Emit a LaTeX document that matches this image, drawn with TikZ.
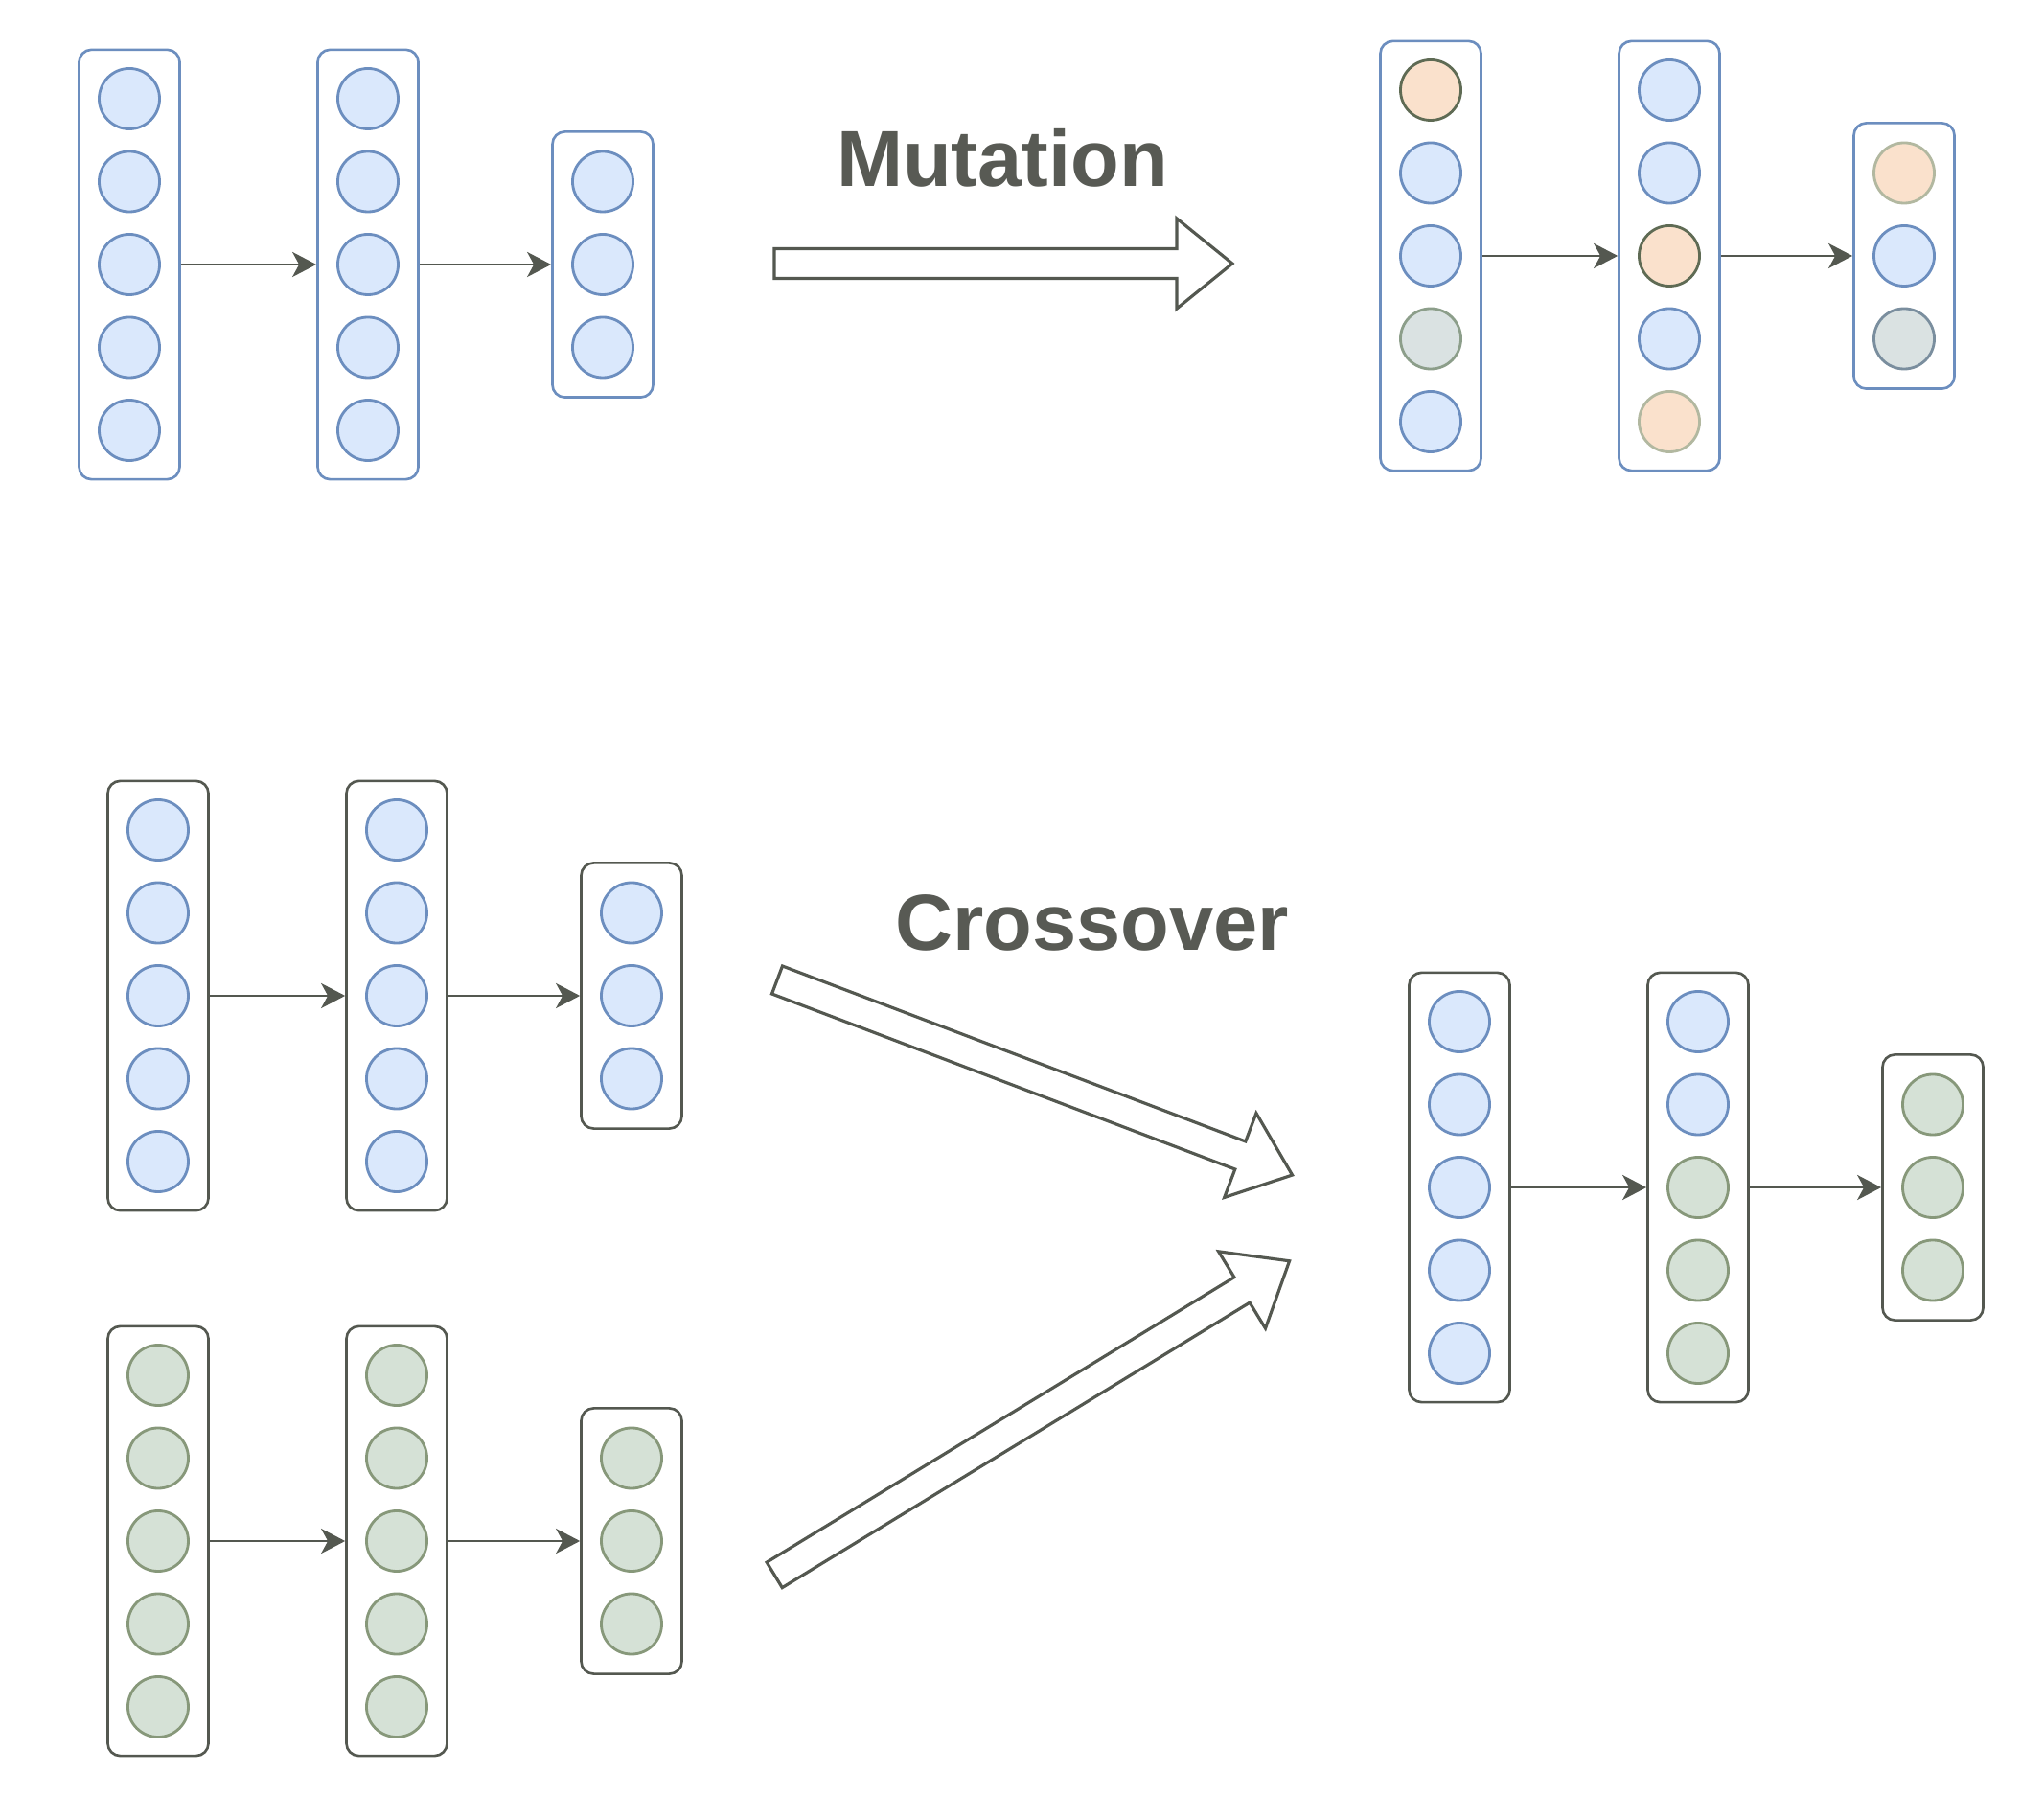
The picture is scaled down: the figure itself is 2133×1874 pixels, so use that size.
\documentclass[tikz,border=0pt]{standalone}
\usepackage{fontspec}
\setmainfont{Liberation Sans}
\usetikzlibrary{arrows.meta}
\definecolor{bfill}{HTML}{DAE8FC}
\definecolor{bline}{HTML}{6C8EBF}
\definecolor{gfill}{RGB}{213,225,214}
\definecolor{gline}{RGB}{135,152,122}
\definecolor{ofill}{RGB}{250,225,204}
\definecolor{odark}{RGB}{95,107,84}
\definecolor{olight}{RGB}{178,184,160}
\definecolor{yfill}{RGB}{218,226,226}
\definecolor{ygline}{RGB}{140,158,138}
\definecolor{ybline}{RGB}{122,142,158}
\definecolor{dline}{RGB}{84,88,80}
\definecolor{txt}{RGB}{88,90,84}
\tikzset{
  neuron/.style={circle, minimum size=0.63cm, inner sep=0pt, line width=0.8pt},
  blu/.style={neuron, fill=bfill, draw=bline},
  grn/.style={neuron, fill=gfill, draw=gline},
  oraD/.style={neuron, fill=ofill, draw=odark},
  oraL/.style={neuron, fill=ofill, draw=olight},
  gryG/.style={neuron, fill=yfill, draw=ygline},
  gryB/.style={neuron, fill=yfill, draw=ybline},
  layerbox/.style={rectangle, rounded corners=0.13cm, minimum width=1.05cm, fill=white, line width=0.75pt},
  bbox/.style={layerbox, draw=bline},
  dbox/.style={layerbox, draw=dline},
  conn/.style={draw=dline, line width=0.75pt, -{Stealth[length=0.25cm, width=0.26cm, inset=0.07cm]}},
  barrow/.style={draw=dline, fill=white, line width=0.9pt, line join=miter},
  lbl/.style={text=txt, font=\bfseries\fontsize{23.6}{28}\selectfont, inner sep=0pt}
}
\newcommand\nnlayer[6]{%
  \node[#5, minimum height={(0.855*#4+0.205)*1cm}] (#1) at (#2,#3) {};
  \foreach \s [count=\i] in {#6} {
    \node[\s] (#1-\i) at (#2,{#3+(\i-(#4+1)/2)*86.5}) {};
  }
}
\newcommand\blockarrow[4]{%
  \begin{scope}[shift={(#1,#2)}, rotate=#3]
    \draw[barrow] (0,-15.5) -- ({#4-58},-15.5) -- ({#4-58},-47) -- (#4,0)
      -- ({#4-58},47) -- ({#4-58},15.5) -- (0,15.5) -- cycle;
  \end{scope}
}
\begin{document}
\begin{tikzpicture}[x=0.01cm, y=-0.01cm]
\path[use as bounding box, fill=white] (0,0) rectangle (2133,1874);

% ---------- Mutation: parent ----------
\nnlayer{ml1}{135}{276}{5}{bbox}{blu,blu,blu,blu,blu}
\nnlayer{ml2}{384}{276}{5}{bbox}{blu,blu,blu,blu,blu}
\nnlayer{ml3}{629}{276}{3}{bbox}{blu,blu,blu}
\draw[conn] (ml1) -- (ml2);
\draw[conn] (ml2) -- (ml3);

% ---------- Mutation: child ----------
\nnlayer{mr1}{1493}{267}{5}{bbox}{oraD,blu,blu,gryG,blu}
\nnlayer{mr2}{1742}{267}{5}{bbox}{blu,blu,oraD,blu,oraL}
\nnlayer{mr3}{1987}{267}{3}{bbox}{oraL,blu,gryB}
\draw[conn] (mr1) -- (mr2);
\draw[conn] (mr2) -- (mr3);

\node[lbl, anchor=base] (mutlbl) at (1046,195) {Mutation};
\blockarrow{808}{275}{0}{478}

% ---------- Crossover: parent 1 ----------
\nnlayer{ct1}{165}{1039}{5}{dbox}{blu,blu,blu,blu,blu}
\nnlayer{ct2}{414}{1039}{5}{dbox}{blu,blu,blu,blu,blu}
\nnlayer{ct3}{659}{1039}{3}{dbox}{blu,blu,blu}
\draw[conn] (ct1) -- (ct2);
\draw[conn] (ct2) -- (ct3);

% ---------- Crossover: parent 2 ----------
\nnlayer{cb1}{165}{1608}{5}{dbox}{grn,grn,grn,grn,grn}
\nnlayer{cb2}{414}{1608}{5}{dbox}{grn,grn,grn,grn,grn}
\nnlayer{cb3}{659}{1608}{3}{dbox}{grn,grn,grn}
\draw[conn] (cb1) -- (cb2);
\draw[conn] (cb2) -- (cb3);

% ---------- Crossover: child ----------
\nnlayer{cr1}{1523}{1239}{5}{dbox}{blu,blu,blu,blu,blu}
\nnlayer{cr2}{1772}{1239}{5}{dbox}{blu,blu,grn,grn,grn}
\nnlayer{cr3}{2017}{1239}{3}{dbox}{grn,grn,grn}
\draw[conn] (cr1) -- (cr2);
\draw[conn] (cr2) -- (cr3);

\node[lbl, anchor=base] (crosslbl) at (1140,992) {Crossover};
\blockarrow{811}{1022.5}{-20.74}{574.8}
\blockarrow{808.2}{1643.4}{31.37}{629.4}
\end{tikzpicture}
\end{document}
